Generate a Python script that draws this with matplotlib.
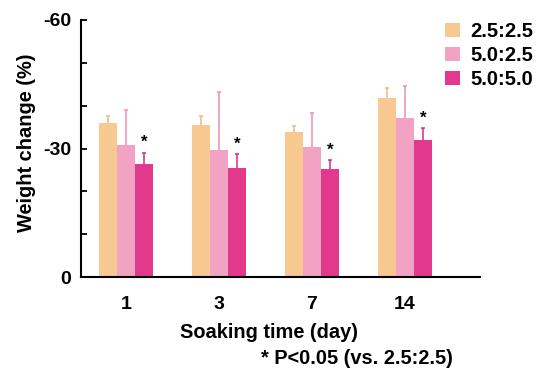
import matplotlib
matplotlib.use("Agg")
import matplotlib.pyplot as plt
import numpy as np
from matplotlib.patches import Patch

plt.rcParams['font.family'] = ['Liberation Sans', 'DejaVu Sans']
plt.rcParams['font.weight'] = 'bold'

days = ['1', '3', '7', '14']
series = ['2.5:2.5', '5.0:2.5', '5.0:5.0']
mean_a = [-35.9, -35.4, -33.8, -41.7]
err_a = [1.8, 2.3, 1.5, 2.5]
mean_b = [-30.8, -29.7, -30.3, -37.1]
err_b = [8.2, 13.4, 8.1, 7.5]
mean_c = [-26.4, -25.4, -25.1, -32.0]
err_c = [2.6, 3.3, 2.2, 2.7]
significant_c = [True, True, True, True]

colors = ['#F8C891', '#F2A3C4', '#E2398D']
err_colors = ['#F0B880', '#EC8EB8', '#D42A80']

fig = plt.figure(figsize=(5.45, 3.72), dpi=100)
ax = fig.add_axes([81/545, 1-277/372, (480-81)/545, (277-20)/372])

x = np.arange(len(days))
w = 0.194
offsets = [-w, 0, w]
means = [mean_a, mean_b, mean_c]
errs = [err_a, err_b, err_c]

for i in range(3):
    xs = x + offsets[i]
    ax.bar(xs, means[i], width=w, color=colors[i], edgecolor='none', zorder=2)
    e = np.array(errs[i])
    line, caps, bars = ax.errorbar(xs, means[i], yerr=[e, np.zeros_like(e)],
                                   fmt='none', ecolor=err_colors[i], elinewidth=1.1,
                                   capsize=1.6, capthick=1.1, zorder=3)
    if len(caps) > 1:
        caps[1].set_visible(False)

for j in range(len(days)):
    if significant_c[j]:
        ax.text(x[j] + offsets[2], mean_c[j] - err_c[j] - 0.6, '*', ha='center', va='bottom',
                fontsize=12, fontweight='bold', color='black')

ax.set_ylim(0, -60)
ax.set_xlim(-0.484, 3.806)
ax.set_yticks([0, -30, -60])
ax.set_yticklabels(['0', '-30', '-60'])
ax.set_yticks(np.arange(0, -61, -10), minor=True)
ax.tick_params(axis='y', which='both', direction='in', length=4, width=1.3, labelsize=14, pad=7)
ax.set_xticks(x)
ax.set_xticklabels(days)
ax.tick_params(axis='x', length=0, labelsize=14, pad=14)

for s in ['top', 'right']:
    ax.spines[s].set_visible(False)
for s in ['left', 'bottom']:
    ax.spines[s].set_linewidth(1.5)

fig.text(27/545, 1-143/372, 'Weight change (%)', rotation=90, ha='center', va='center',
         fontsize=14.4, fontweight='bold')
fig.text(269/545, 1-333/372, 'Soaking time (day)', ha='center', va='center',
         fontsize=14.4, fontweight='bold')
fig.text(357/545, 1-359/372, '* P<0.05 (vs. 2.5:2.5)', ha='center', va='center',
         fontsize=14.4, fontweight='bold')

handles = [Patch(facecolor=c, edgecolor='none') for c in colors]
fig.legend(handles, series, loc='upper left', bbox_to_anchor=(445/545, 1-22/372),
           frameon=False, borderpad=0, borderaxespad=0, handlelength=0.75, handleheight=0.75,
           handletextpad=0.5, labelspacing=0.25, prop={'size': 14.5, 'weight': 'bold'})

fig.savefig('out.png', dpi=100)
